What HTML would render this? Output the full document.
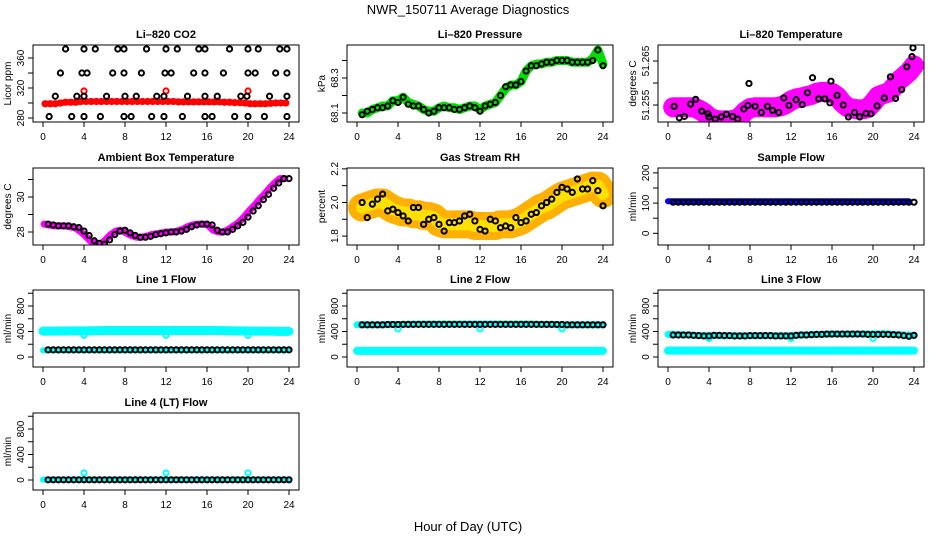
<!DOCTYPE html>
<html><head><meta charset="utf-8"><style>
html,body{margin:0;padding:0;background:#fff;}
svg{display:block;font-family:"Liberation Sans",sans-serif;}
</style></head><body>
<svg id="c" width="936" height="540" viewBox="0 0 936 540">
<defs id="defs"></defs>
<text x="468" y="14" font-size="13" text-anchor="middle">NWR_150711  Average Diagnostics</text>
<text x="468" y="531" font-size="13" text-anchor="middle">Hour of Day (UTC)</text>
</svg>
<script>
const H=[0.5,1,1.5,2,2.5,3,3.5,4,4.5,5,5.5,6,6.5,7,7.5,8,8.5,9,9.5,10,10.5,11,11.5,12,12.5,13,13.5,14,14.5,15,15.5,16,16.5,17,17.5,18,18.5,19,19.5,20,20.5,21,21.5,22,22.5,23,23.5,24];
const xTicks=[0,4,8,12,16,20,24];
const co2Red=[299,299,299,300,301,301,301,302,302,302,302,302,302,302,302,302,302,302,302,302,302,302,302,302,302,302,301.5,301.5,301.5,301.5,301.5,301.5,301.5,301.5,301.5,301,301,300.5,300.5,300,299,299,299,299,299.5,300,300,300];
const co2RedOutH=[4,12,20];
const co2RedOutV=[316,316,316];
const co2BlkH=[2.2,4,5.1,7.3,7.9,10.1,12,13.1,15.2,15.8,18.2,20,21,23.1,23.8,1.7,3.8,4.3,6.8,7.9,9.6,11.9,12.5,14.7,15.8,17.6,20,20.7,22.7,23.8,1.2,3.3,4,6.2,8,9.1,11.1,11.8,14.1,15.8,17,19.3,19.9,22.1,23.8,0.6,2.8,4,5.6,7.9,8.6,10.6,11.8,13.6,15.8,16.5,18.7,20,21.6,23.8];
const co2BlkV=[372,372,372,372,372,372,372,372,372,372,372,372,372,372,372,340,340,340,340,340,340,340,340,340,340,340,340,340,340,340,309,309,309,309,309,309,309,309,309,309,309,309,309,309,309,282,282,282,282,282,282,282,282,282,282,282,282,282,282,282];
const presGreen=[68.10,68.10,68.12,68.13,68.14,68.14,68.17,68.17,68.19,68.16,68.15,68.14,68.12,68.11,68.11,68.13,68.14,68.13,68.13,68.12,68.13,68.14,68.14,68.12,68.14,68.15,68.16,68.20,68.24,68.26,68.26,68.28,68.34,68.37,68.38,68.38,68.39,68.39,68.40,68.40,68.40,68.39,68.39,68.39,68.39,68.41,68.46,68.38];
const presBlk=[68.09,68.11,68.12,68.13,68.13,68.14,68.17,68.16,68.19,68.15,68.14,68.14,68.12,68.10,68.11,68.13,68.13,68.13,68.12,68.12,68.13,68.14,68.13,68.11,68.14,68.15,68.16,68.20,68.25,68.26,68.26,68.28,68.34,68.37,68.37,68.38,68.39,68.39,68.40,68.40,68.40,68.39,68.39,68.39,68.39,68.40,68.46,68.37];
const ltMag=[51.2545,51.2545,51.2545,51.2545,51.2545,51.2540,51.2533,51.2523,51.2517,51.2515,51.2515,51.2515,51.2517,51.2522,51.2535,51.2543,51.2545,51.2545,51.2545,51.2545,51.2545,51.2547,51.2552,51.2560,51.2565,51.2567,51.2570,51.2573,51.2578,51.2580,51.2580,51.2578,51.2570,51.2555,51.2545,51.2542,51.2540,51.2540,51.2543,51.2555,51.2570,51.2575,51.2578,51.2590,51.2605,51.2615,51.2625,51.2640];
const ltBlkH=[0.6,1.1,1.6,2.2,2.7,3.3,3.9,4.0,4.6,5.2,5.7,6.3,6.8,7.4,7.8,7.9,8.5,9.1,9.7,10.2,10.8,11.3,11.8,12.5,13.1,13.6,14.1,14.7,15.3,15.8,15.9,16.5,17.1,17.6,18.2,18.7,19.3,19.8,20.4,21.1,21.7,22.2,22.8,23.3,23.8,23.9];
const ltBlkV=[51.2547,51.2521,51.2524,51.2552,51.2563,51.2536,51.2530,51.2523,51.2518,51.2523,51.2529,51.2524,51.2518,51.2541,51.2549,51.2599,51.2547,51.2533,51.2547,51.2538,51.2533,51.2566,51.2549,51.2562,51.2551,51.2578,51.2612,51.2564,51.2564,51.2555,51.2604,51.2572,51.2550,51.2523,51.2533,51.2523,51.2531,51.2530,51.2548,51.2566,51.2614,51.2565,51.2585,51.2637,51.2660,51.2680];
const amb=[28.45,28.4,28.35,28.35,28.35,28.3,28.25,28.05,27.8,27.5,27.35,27.3,27.55,27.85,28.05,28.1,27.95,27.8,27.7,27.7,27.75,27.85,27.9,27.95,28.0,28.0,28.05,28.15,28.3,28.4,28.45,28.45,28.4,28.1,28.0,28.0,28.15,28.35,28.55,28.85,29.2,29.5,29.85,30.15,30.5,30.8,31.05,31.05];
const rhBand=[1.97,1.98,1.99,2.00,2.00,1.98,1.96,1.95,1.94,1.94,1.93,1.93,1.92,1.92,1.91,1.88,1.87,1.87,1.87,1.87,1.87,1.87,1.86,1.86,1.86,1.86,1.86,1.87,1.87,1.87,1.88,1.89,1.91,1.93,1.95,1.97,1.98,2.00,2.02,2.04,2.05,2.06,2.07,2.08,2.09,2.10,2.10,2.05];
const rhBlk=[2.00,1.91,1.99,2.02,2.05,1.95,1.96,1.94,1.92,1.89,1.97,1.97,1.87,1.90,1.91,1.87,1.83,1.88,1.88,1.89,1.92,1.93,1.89,1.84,1.83,1.90,1.89,1.85,1.86,1.85,1.91,1.88,1.89,1.93,1.94,1.98,2.00,2.02,2.06,2.09,2.08,2.06,2.14,2.08,2.08,2.13,2.07,1.98];
const sfBlue=[106,106,106,106,106,106,106,106,106,106,106,106,106,106,106,106,106,106,106,106,106,106,106,106,106,106,106,106,106,106,106,106,106,106,106,106,106,106,106,106,106,106,106,106,106,106,106,106];
const sfBlk=[103,103,103,103,103,103,103,103,103,103,103,103,103,103,103,103,103,103,103,103,103,103,103,103,103,103,103,103,103,103,103,103,103,103,103,103,103,103,103,103,103,103,103,103,103,103,103,103];
const HB=[0,1,2,3,4,5,6,7,8,9,10,11,12,13,14,15,16,17,18,19,20,21,22,23,24];
const l1CyanHi=[405,405,408,410,410,412,415,415,415,415,415,415,415,415,415,415,415,415,412,410,408,405,405,402,402];
const l1CyanLo=[105,105,105,105,105,105,105,105,105,105,105,105,105,105,105,105,105,105,105,105,105,105,105,105,105];
const l1Blk=[112,112,112,112,112,112,112,112,112,112,112,112,112,112,112,112,112,112,112,112,112,112,112,112,112,112,112,112,112,112,112,112,112,112,112,112,112,112,112,112,112,112,112,112,112,112,112,112];
const l1OutV=[340,340,340];
const l2CyanHi=[505,505,505,508,510,512,515,515,515,515,515,515,515,515,515,515,515,515,510,510,505,505,505,505,505];
const l2CyanLo=[95,95,95,95,95,95,95,95,95,95,95,95,95,95,95,95,95,95,95,95,95,95,95,95,95];
const l2Blk=[505,505,505,505,505,510,510,510,512,512,512,512,512,512,512,512,512,512,512,512,512,512,512,512,512,512,512,512,512,512,512,512,512,512,512,512,512,512,510,510,505,505,505,505,505,505,505,505];
const l2OutV=[440,440,440];
const l3CyanHi=[355,350,345,340,340,335,335,335,335,335,335,335,335,345,350,355,360,360,360,360,360,365,355,345,340];
const l3CyanLo=[100,100,100,100,100,100,100,100,100,100,100,100,100,100,100,100,100,100,100,100,100,100,100,100,100];
const l3Blk=[345,345,345,345,340,335,330,330,340,340,335,335,330,330,330,335,335,335,335,335,330,330,330,330,340,345,345,350,355,355,360,360,360,360,360,360,360,360,355,355,355,355,355,350,345,335,325,340];
const l3OutV=[290,290,290];
const l4Cyan=[5,5,5,5,5,5,5,5,5,5,5,5,5,5,5,5,5,5,5,5,5,5,5,5,5];
const l4Blk=[3,3,3,3,3,3,3,3,3,3,3,3,3,3,3,3,3,3,3,3,3,3,3,3,3,3,3,3,3,3,3,3,3,3,3,3,3,3,3,3,3,3,3,3,3,3,3,3];
const l4OutV=[110,110,110];
const outH=[4,12,20];

const NS='http://www.w3.org/2000/svg';
const svg=document.getElementById('c');
const defs=document.getElementById('defs');
function el(tag,attrs,parent){const e=document.createElementNS(NS,tag);for(const k in attrs)e.setAttribute(k,attrs[k]);(parent||svg).appendChild(e);return e;}
let pid=0;
function makePanel(p){
  const g=el('g',{});
  
  
  const x0=p.left+10, W=246, top=p.top, bot=p.top+77, right=p.left+266;
  const sx=h=>x0+h/24*W;
  const sy=v=>bot-(v-p.vmin)/(p.vmax-p.vmin)*77;
  const t=el('text',{x:(p.left+right)/2,y:top-7,'font-size':11,'font-weight':'bold','text-anchor':'middle'},g);
  t.textContent=p.title;
  
  
  const cid='clip'+(pid++);
  const cp=el('clipPath',{id:cid},defs);
  el('rect',{x:p.left,y:top,width:right-p.left,height:77},cp);
  const plot=el('g',{'clip-path':'url(#'+cid+')'},g);
  
  
  p.draw(plot,sx,sy);
  const box=el('rect',{x:p.left,y:top,width:right-p.left,height:77,fill:'none',stroke:'#000','stroke-width':1},g);
  
  
  const xa=el('g',{},g);
  
  
  xTicks.forEach(h=>{
    el('line',{x1:sx(h),x2:sx(h),y1:bot,y2:bot+5,stroke:'#000'},xa);
    const tx=el('text',{x:sx(h),y:bot+18,'font-size':10,'text-anchor':'middle'},xa);
    tx.textContent=h;
    
    
  });
  const ya=el('g',{},g);
  
  
  p.yt.forEach((v,i)=>{
    const y=sy(v);
    el('line',{x1:p.left-5,x2:p.left,y1:y,y2:y,stroke:'#000'},ya);
    const lab=p.yl[i];
    if(lab!==''){
      const tx=el('text',{x:0,y:0,'font-size':10,'text-anchor':'middle',transform:`translate(${p.left-9},${y}) rotate(-90)`},ya);
      tx.textContent=lab;
      
      
    }
  });
  const yt=el('text',{x:0,y:0,'font-size':10,'text-anchor':'middle',transform:`translate(${p.left-22},${(top+bot)/2}) rotate(-90)`},g);
  yt.textContent=p.ylab;
  
  
}
function band(g,xs,ys,sx,sy,color,w,name){
  const pl=el('polyline',{points:xs.map((h,i)=>sx(h)+','+sy(ys[i])).join(' '),fill:'none',stroke:color,'stroke-width':w,'stroke-linejoin':'round','stroke-linecap':'round'},g);
  
  
}
function pts(g,xs,ys,sx,sy,color,name,r){
  const gg=el('g',{},g);
  
  
  xs.forEach((h,i)=>{
    const c=el('circle',{cx:sx(h),cy:sy(ys[i]),r:r||2.6,fill:'none',stroke:color,'stroke-width':2},gg);
    
    
  });
}
const C=[33,347,658], R=[45,168,290,413];

makePanel({name:'co2-panel',title:'Li\u2013820 CO2',left:C[0],top:R[0],vmin:274.7,vmax:377.3,ylab:'Licor ppm',yt:[280,300,320,340,360],yl:['280','','320','','360'],
 draw:(g,sx,sy)=>{band(g,H.map(h=>h-0.3),co2Red,sx,sy,'#ff0000',6,'co2-red-band');pts(g,H.map(h=>h-0.3),co2Red,sx,sy,'#ff0000','co2-red-points');pts(g,co2RedOutH,co2RedOutV,sx,sy,'#ff0000','co2-red-outliers');pts(g,co2BlkH,co2BlkV,sx,sy,'#000','co2-black-points');}});
makePanel({name:'pressure-panel',title:'Li\u2013820 Pressure',left:C[1],top:R[0],vmin:68.0486,vmax:68.4886,ylab:'kPa',yt:[68.1,68.2,68.3,68.4],yl:['68.1','','68.3',''],
 draw:(g,sx,sy)=>{band(g,H,presGreen,sx,sy,'#00dd00',9,'pressure-green-band');pts(g,H,presBlk,sx,sy,'#000','pressure-black-points');}});
makePanel({name:'li820-temp-panel',title:'Li\u2013820 Temperature',left:C[2],top:R[0],vmin:51.25114,vmax:51.26864,ylab:'degrees C',yt:[51.255,51.26,51.265],yl:['51.255','','51.265'],
 draw:(g,sx,sy)=>{band(g,H,ltMag,sx,sy,'#ff00ff',20,'li820-temp-band');pts(g,ltBlkH,ltBlkV,sx,sy,'#000','li820-temp-black-points');}});
makePanel({name:'ambient-temp-panel',title:'Ambient Box Temperature',left:C[0],top:R[1],vmin:27.257,vmax:31.657,ylab:'degrees C',yt:[28,29,30,31],yl:['28','','30',''],
 draw:(g,sx,sy)=>{band(g,H.map(h=>h-0.4),amb,sx,sy,'#ff00ff',7,'ambient-magenta-band');pts(g,H,amb,sx,sy,'#000','ambient-black-points');}});
makePanel({name:'rh-panel',title:'Gas Stream RH',left:C[1],top:R[1],vmin:1.747,vmax:2.205,ylab:'percent',yt:[1.8,1.9,2.0,2.1,2.2],yl:['1.8','','2.0','','2.2'],
 draw:(g,sx,sy)=>{band(g,H,rhBand,sx,sy,'#ffb000',28,'rh-orange-band');band(g,H,rhBand,sx,sy,'#ffe000',12,'rh-yellow-band');pts(g,H,rhBlk,sx,sy,'#000','rh-black-points');}});
makePanel({name:'sample-flow-panel',title:'Sample Flow',left:C[2],top:R[1],vmin:-38.7,vmax:216.1,ylab:'ml/min',yt:[0,50,100,150,200],yl:['0','','100','','200'],
 draw:(g,sx,sy)=>{band(g,H.map(h=>h-0.5),sfBlue,sx,sy,'#0000ff',6,'sample-flow-blue-band');pts(g,H,sfBlk,sx,sy,'#000','sample-flow-black-points');}});
makePanel({name:'line1-flow-panel',title:'Line 1 Flow',left:C[0],top:R[2],vmin:-157,vmax:1051,ylab:'ml/min',yt:[0,200,400,600,800,1000],yl:['0','','400','','800',''],
 draw:(g,sx,sy)=>{band(g,HB,l1CyanHi,sx,sy,'#00ffff',9,'line1-cyan-high');band(g,HB,l1CyanLo,sx,sy,'#00ffff',6,'line1-cyan-low');pts(g,outH,l1OutV,sx,sy,'#00ffff','line1-cyan-outliers');pts(g,H,l1Blk,sx,sy,'#000','line1-black-points');}});
makePanel({name:'line2-flow-panel',title:'Line 2 Flow',left:C[1],top:R[2],vmin:-157,vmax:1051,ylab:'ml/min',yt:[0,200,400,600,800,1000],yl:['0','','400','','800',''],
 draw:(g,sx,sy)=>{band(g,HB,l2CyanHi,sx,sy,'#00ffff',7,'line2-cyan-high');band(g,HB,l2CyanLo,sx,sy,'#00ffff',8,'line2-cyan-low');pts(g,outH,l2OutV,sx,sy,'#00ffff','line2-cyan-outliers');pts(g,H,l2Blk,sx,sy,'#000','line2-black-points');}});
makePanel({name:'line3-flow-panel',title:'Line 3 Flow',left:C[2],top:R[2],vmin:-157,vmax:1051,ylab:'ml/min',yt:[0,200,400,600,800,1000],yl:['0','','400','','800',''],
 draw:(g,sx,sy)=>{band(g,HB,l3CyanHi,sx,sy,'#00ffff',7,'line3-cyan-high');band(g,HB,l3CyanLo,sx,sy,'#00ffff',8,'line3-cyan-low');pts(g,outH,l3OutV,sx,sy,'#00ffff','line3-cyan-outliers');pts(g,H,l3Blk,sx,sy,'#000','line3-black-points');}});
makePanel({name:'line4-flow-panel',title:'Line 4 (LT) Flow',left:C[0],top:R[3],vmin:-157,vmax:1051,ylab:'ml/min',yt:[0,200,400,600,800,1000],yl:['0','','400','','800',''],
 draw:(g,sx,sy)=>{band(g,HB,l4Cyan,sx,sy,'#00ffff',6,'line4-cyan-band');pts(g,outH,l4OutV,sx,sy,'#00ffff','line4-cyan-outliers');pts(g,H,l4Blk,sx,sy,'#000','line4-black-points');}});
</script>
</body></html>
